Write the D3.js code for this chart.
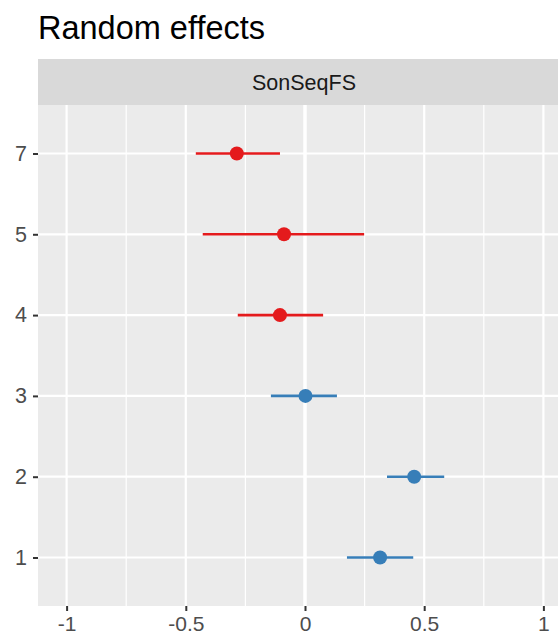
<!DOCTYPE html>
<html>
<head>
<meta charset="utf-8">
<script src="https://cdn.jsdelivr.net/npm/d3@7"></script>
<style>
  html, body { margin: 0; padding: 0; background: #fff; }
  svg { display: block; font-family: "Liberation Sans", Arial, sans-serif; }
</style>
</head>
<body>
<svg id="chart" width="558" height="644"></svg>
<script>
// Random-effect estimates with confidence intervals per group level
const levels   = ["1", "2", "3", "4", "5", "7"];
const estimate = [0.315, 0.458, 0.002, -0.105, -0.088, -0.286];
const ciLow    = [0.176, 0.344, -0.143, -0.282, -0.429, -0.458];
const ciHigh   = [0.454, 0.584, 0.134, 0.076, 0.248, -0.105];
const xTicks   = [-1, -0.5, 0, 0.5, 1];
const xMinor   = [-0.75, -0.25, 0.25, 0.75];
const facetLabel = "SonSeqFS";
const titleText  = "Random effects";

const rows = levels.map((lv, i) => ({
  level: lv, est: estimate[i], lo: ciLow[i], hi: ciHigh[i]
}));

const svg = d3.select("#chart");

const panel = { left: 38, top: 105, bottom: 606, right: 572 };
const strip = { top: 59, bottom: 105 };

const x = d3.scaleLinear().domain([-1.12, 1.12]).range([panel.left, panel.right]);
const y = d3.scalePoint().domain(levels).range([panel.bottom, panel.top]).padding(0.6);

// positive effects in blue, negative in red
const red = "#E41A1C", blue = "#377EB8";
const colorOf = d => d.est > 0 ? blue : red;

// title
svg.append("text")
  .attr("x", 38).attr("y", 39)
  .attr("font-size", 32.5).attr("fill", "#000")
  .text(titleText);

// facet strip
svg.append("rect")
  .attr("x", panel.left).attr("y", strip.top)
  .attr("width", panel.right - panel.left).attr("height", strip.bottom - strip.top)
  .attr("fill", "#D9D9D9");
svg.append("text")
  .attr("x", (panel.left + panel.right) / 2 - 1).attr("y", (strip.top + strip.bottom) / 2 + 7.5)
  .attr("text-anchor", "middle").attr("font-size", 21.5).attr("fill", "#1A1A1A")
  .text(facetLabel);

// panel background
svg.append("rect")
  .attr("x", panel.left).attr("y", panel.top)
  .attr("width", panel.right - panel.left).attr("height", panel.bottom - panel.top)
  .attr("fill", "#EBEBEB");

const grid = svg.append("g");
grid.selectAll("line.minor").data(xMinor).join("line")
  .attr("x1", d => x(d)).attr("x2", d => x(d))
  .attr("y1", panel.top).attr("y2", panel.bottom)
  .attr("stroke", "#fff").attr("stroke-width", 1.2);
grid.selectAll("line.major").data(xTicks).join("line")
  .attr("x1", d => x(d)).attr("x2", d => x(d))
  .attr("y1", panel.top).attr("y2", panel.bottom)
  .attr("stroke", "#fff").attr("stroke-width", d => d === 0 ? 3.5 : 2.2);
grid.selectAll("line.h").data(levels).join("line")
  .attr("x1", panel.left).attr("x2", panel.right)
  .attr("y1", d => y(d)).attr("y2", d => y(d))
  .attr("stroke", "#fff").attr("stroke-width", 2.2);

// intervals and estimates
const marks = svg.append("g");
marks.selectAll("line.ci").data(rows).join("line")
  .attr("x1", d => x(d.lo)).attr("x2", d => x(d.hi))
  .attr("y1", d => y(d.level)).attr("y2", d => y(d.level))
  .attr("stroke", colorOf).attr("stroke-width", 2.6);
marks.selectAll("circle").data(rows).join("circle")
  .attr("cx", d => x(d.est)).attr("cy", d => y(d.level))
  .attr("r", 7).attr("fill", colorOf);

// axes
const xAxis = d3.axisBottom(x).tickValues(xTicks).tickSize(5).tickPadding(5)
  .tickFormat(d => String(d));
const gx = svg.append("g").attr("transform", `translate(0,${panel.bottom})`).call(xAxis);
gx.select(".domain").remove();
gx.selectAll(".tick line").attr("stroke", "#333").attr("stroke-width", 2);
gx.selectAll(".tick text").attr("font-size", 21).attr("fill", "#4D4D4D")
  .attr("font-family", "'Liberation Sans', Arial, sans-serif");

const yAxis = d3.axisLeft(y).tickSize(5).tickPadding(6);
const gy = svg.append("g").attr("transform", `translate(${panel.left},0)`).call(yAxis);
gy.select(".domain").remove();
gy.selectAll(".tick line").attr("stroke", "#333").attr("stroke-width", 2);
gy.selectAll(".tick text").attr("font-size", 21.5).attr("fill", "#4D4D4D")
  .attr("font-family", "'Liberation Sans', Arial, sans-serif");
</script>
</body>
</html>
